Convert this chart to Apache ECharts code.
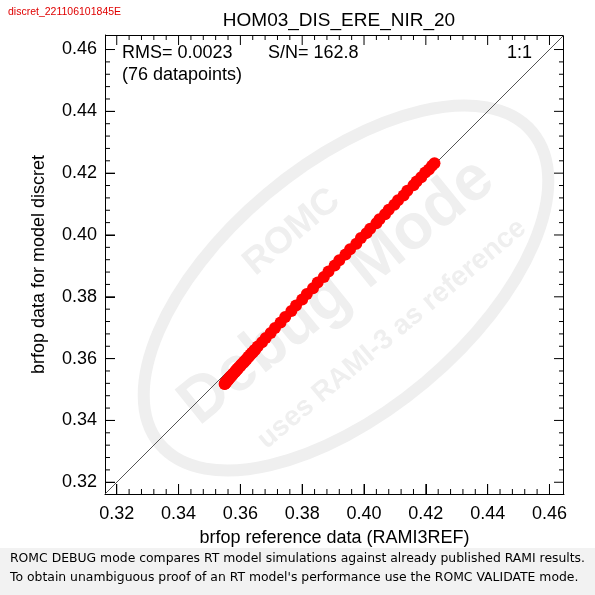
<!DOCTYPE html>
<html>
<head>
<meta charset="utf-8">
<script src="https://cdn.jsdelivr.net/npm/echarts@6/dist/echarts.min.js"></script>
<style>
html,body{margin:0;padding:0;background:#fff;}
#wrap{position:relative;width:595px;height:595px;}
#back,#plot{position:absolute;left:0;top:0;width:595px;height:595px;}
</style>
</head>
<body>
<div id="wrap"><div id="back"></div><div id="plot"></div></div>
<script>
// ---- data ----
var refValues = [
  0.4228, 0.4220, 0.4210, 0.4198, 0.4185, 0.4170, 0.4160, 0.4140, 0.4128, 0.4110,
  0.4098, 0.4080, 0.4068, 0.4050, 0.4040, 0.4020, 0.4008, 0.3990, 0.3975, 0.3955,
  0.3940, 0.3920, 0.3905, 0.3885, 0.3870, 0.3850, 0.3835, 0.3815, 0.3800, 0.3780,
  0.3765, 0.3745, 0.3730, 0.3712, 0.3698, 0.3682, 0.3670, 0.3656,
  0.3648, 0.3645, 0.3640, 0.3637, 0.3633, 0.3628, 0.3625, 0.3621, 0.3616, 0.3613,
  0.3610, 0.3605, 0.3602, 0.3600, 0.3595, 0.3592, 0.3590, 0.3586, 0.3584, 0.3582,
  0.3578, 0.3576, 0.3574, 0.3570, 0.3568, 0.3567, 0.3564, 0.3562, 0.3561, 0.3558,
  0.3557, 0.3556, 0.3554, 0.3553, 0.3552, 0.3551, 0.3550, 0.3549
];
var modelValues = [
  0.4232, 0.4224, 0.4212, 0.4202, 0.4187, 0.4173, 0.4161, 0.4143, 0.4128, 0.4112,
  0.4098, 0.4082, 0.4067, 0.4051, 0.4038, 0.4020, 0.4006, 0.3990, 0.3972, 0.3954,
  0.3937, 0.3918, 0.3901, 0.3882, 0.3864, 0.3846, 0.3828, 0.3809, 0.3791, 0.3772,
  0.3754, 0.3735, 0.3717, 0.3699, 0.3683, 0.3667, 0.3653, 0.3639,
  0.3629, 0.3627, 0.3620, 0.3618, 0.3613, 0.3607, 0.3605, 0.3599, 0.3595, 0.3591,
  0.3587, 0.3583, 0.3579, 0.3576, 0.3572, 0.3568, 0.3565, 0.3562, 0.3559, 0.3556,
  0.3553, 0.3550, 0.3547, 0.3544, 0.3541, 0.3539, 0.3537, 0.3534, 0.3532, 0.3530,
  0.3528, 0.3526, 0.3525, 0.3523, 0.3522, 0.3520, 0.3519, 0.3518
];
var majorTicks = [0.32, 0.34, 0.36, 0.38, 0.40, 0.42, 0.44, 0.46];
var minorTicks = [0.324, 0.328, 0.332, 0.336, 0.344, 0.348, 0.352, 0.356, 0.364, 0.368,
  0.372, 0.376, 0.384, 0.388, 0.392, 0.396, 0.404, 0.408, 0.412, 0.416, 0.424, 0.428,
  0.432, 0.436, 0.444, 0.448, 0.452, 0.456];
var axisMin = 0.3162, axisMax = 0.4647;
var titleText = 'HOM03_DIS_ERE_NIR_20';
var xName = 'brfop reference data (RAMI3REF)';
var yName = 'brfop data for model discret';
var idText = 'discret_221106101845E';
var rmsText = 'RMS= 0.0023';
var snText = 'S/N= 162.8';
var countText = '(76 datapoints)';
var oneToOne = '1:1';
var footer1 = 'ROMC DEBUG mode compares RT model simulations against already published RAMI results.';
var footer2 = "To obtain unambiguous proof of an RT model's performance use the ROMC VALIDATE mode.";

var points = refValues.map(function (v, i) { return [v, modelValues[i]]; });
var lineData = [[axisMin, axisMin], [axisMax, axisMax]];

var FONT = 'Liberation Sans';
var WM = '#efefef';
var GRID = { left: 105, top: 35, width: 459, height: 459 };

// ---------- back layer: titles, names, watermark, notes ----------
var back = echarts.init(document.getElementById('back'));
back.setOption({
  animation: false,
  backgroundColor: '#fff',
  grid: GRID,
  title: {
    text: titleText, left: 334, top: 6, textAlign: 'center',
    textStyle: { fontFamily: FONT, fontSize: 19, fontWeight: 'normal', color: '#000' }
  },
  xAxis: {
    type: 'value', min: axisMin, max: axisMax,
    splitLine: { show: false }, axisLine: { show: false }, axisTick: { show: false }, axisLabel: { show: false },
    name: xName, nameLocation: 'middle', nameGap: 35,
    nameTextStyle: { fontFamily: FONT, fontSize: 18, color: '#000' }
  },
  yAxis: {
    type: 'value', min: axisMin, max: axisMax,
    splitLine: { show: false }, axisLine: { show: false }, axisTick: { show: false }, axisLabel: { show: false },
    name: yName, nameLocation: 'middle', nameGap: 57,
    nameTextStyle: { fontFamily: FONT, fontSize: 18, color: '#000' }
  },
  graphic: [
    { type: 'rect', z: -10, silent: true, shape: { x: 0, y: 548, width: 595, height: 47 }, style: { fill: '#f2f2f2' } },
    { type: 'ellipse', z: -5, silent: true, x: 346, y: 288, rotation: 40 * Math.PI / 180,
      shape: { cx: 0, cy: 0, rx: 243, ry: 123 }, style: { fill: 'none', stroke: WM, lineWidth: 12 } },
    { type: 'text', z: -5, silent: true, x: 292, y: 232, rotation: 40 * Math.PI / 180,
      style: { text: 'ROMC', fontFamily: FONT, fontSize: 37, fontWeight: 'bold', fill: WM, align: 'center', verticalAlign: 'middle' } },
    { type: 'text', z: -5, silent: true, x: 337, y: 292, rotation: 39 * Math.PI / 180,
      style: { text: 'Debug Mode', fontFamily: FONT, fontSize: 64, fontWeight: 'bold', fill: WM, align: 'center', verticalAlign: 'middle' } },
    { type: 'text', z: -5, silent: true, x: 392, y: 334, rotation: 40 * Math.PI / 180,
      style: { text: 'uses RAMI-3 as reference', fontFamily: FONT, fontSize: 28, fontWeight: 'bold', fill: WM, align: 'center', verticalAlign: 'middle' } },
    { type: 'text', z: 10, x: 8, y: 7,
      style: { text: idText, fontFamily: FONT, fontSize: 10.5, fill: '#e00000' } },
    { type: 'text', z: 10, x: 122, y: 53,
      style: { text: rmsText, fontFamily: FONT, fontSize: 18, fill: '#000', verticalAlign: 'middle' } },
    { type: 'text', z: 10, x: 268, y: 53,
      style: { text: snText, fontFamily: FONT, fontSize: 18, fill: '#000', verticalAlign: 'middle' } },
    { type: 'text', z: 10, x: 507, y: 53,
      style: { text: oneToOne, fontFamily: FONT, fontSize: 18, fill: '#000', verticalAlign: 'middle' } },
    { type: 'text', z: 10, x: 122, y: 75,
      style: { text: countText, fontFamily: FONT, fontSize: 18, fill: '#000', verticalAlign: 'middle' } },
    { type: 'text', z: 10, x: 10, y: 559,
      style: { text: footer1, fontFamily: 'DejaVu Sans', fontSize: 12.4, fill: '#000', verticalAlign: 'middle' } },
    { type: 'text', z: 10, x: 10, y: 578,
      style: { text: footer2, fontFamily: 'DejaVu Sans', fontSize: 12.4, fill: '#000', verticalAlign: 'middle' } }
  ]
});

// ---------- front layer: axes, ticks, data ----------
var plot = echarts.init(document.getElementById('plot'));
var labelStyle = {
  customValues: majorTicks, fontFamily: FONT, fontSize: 18, color: '#000',
  formatter: function (v) { return v.toFixed(2); }
};
plot.setOption({
  animation: false,
  grid: GRID,
  xAxis: {
    type: 'value', min: axisMin, max: axisMax,
    splitLine: { show: false },
    axisLine: { show: true, onZero: false, lineStyle: { color: '#000', width: 1 } },
    axisTick: { show: true, inside: true, length: 10, customValues: majorTicks, lineStyle: { color: '#000', width: 1 } },
    axisLabel: Object.assign({ margin: 11 }, labelStyle)
  },
  yAxis: {
    type: 'value', min: axisMin, max: axisMax,
    splitLine: { show: false },
    axisLine: { show: true, onZero: false, lineStyle: { color: '#000', width: 1 } },
    axisTick: { show: true, inside: true, length: 10, customValues: majorTicks, lineStyle: { color: '#000', width: 1 } },
    axisLabel: Object.assign({ margin: 8 }, labelStyle)
  },
  series: [
    { type: 'line', data: lineData, symbol: 'none', z: 3, silent: true,
      lineStyle: { color: '#555', width: 1 } },
    { type: 'scatter', data: points, symbol: 'circle', symbolSize: 12, z: 4,
      itemStyle: { color: '#ff0000', opacity: 1 } }
  ]
});

var g = [];
function seg(x1, y1, x2, y2) {
  g.push({ type: 'line', shape: { x1: x1, y1: y1, x2: x2, y2: y2 }, style: { stroke: '#000', lineWidth: 1 } });
}
function addTicks(values, len, sides) {
  values.forEach(function (v) {
    var b = plot.convertToPixel({ gridIndex: 0 }, [v, axisMin]);
    var t = plot.convertToPixel({ gridIndex: 0 }, [v, axisMax]);
    var l = plot.convertToPixel({ gridIndex: 0 }, [axisMin, v]);
    var r = plot.convertToPixel({ gridIndex: 0 }, [axisMax, v]);
    if (sides.indexOf('b') >= 0) seg(b[0], b[1], b[0], b[1] - len);
    if (sides.indexOf('t') >= 0) seg(t[0], t[1], t[0], t[1] + len);
    if (sides.indexOf('l') >= 0) seg(l[0], l[1], l[0] + len, l[1]);
    if (sides.indexOf('r') >= 0) seg(r[0], r[1], r[0] - len, r[1]);
  });
}
addTicks(majorTicks, 10, 'btlr');
addTicks(minorTicks, 5, 'btlr');
var tl = plot.convertToPixel({ gridIndex: 0 }, [axisMin, axisMax]);
var br = plot.convertToPixel({ gridIndex: 0 }, [axisMax, axisMin]);
seg(tl[0], tl[1] + 0.5, br[0], tl[1] + 0.5);
seg(br[0] - 0.5, tl[1], br[0] - 0.5, br[1]);
plot.setOption({ graphic: g });
</script>
</body>
</html>
